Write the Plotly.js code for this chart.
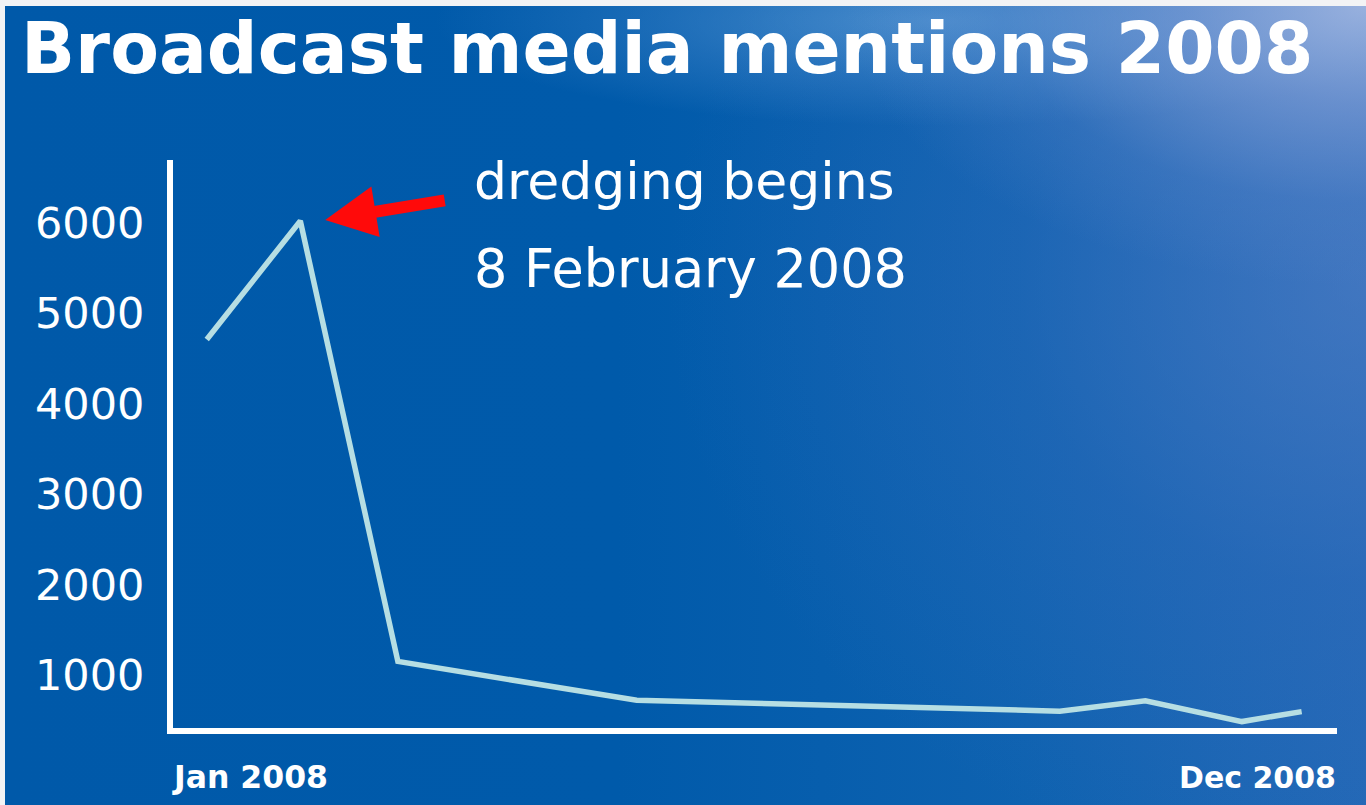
<!DOCTYPE html>
<html>
<head>
<meta charset="utf-8">
<script src="https://cdn.plot.ly/plotly-3.0.1.min.js"></script>
<style>
  html, body { margin: 0; padding: 0; width: 1366px; height: 805px; overflow: hidden; background: #f2f3f5; }
  #bg {
    position: absolute; left: 5px; top: 6px; right: 0; bottom: 0;
    background:
      radial-gradient(ellipse 520px 280px at 100% 0%, rgba(170,188,228,0.85) 0%, rgba(140,165,218,0.6) 35%, rgba(100,140,205,0.25) 70%, rgba(0,0,0,0) 100%),
      radial-gradient(ellipse 500px 105px at 930px 15px, rgba(120,175,228,0.55) 0%, rgba(90,150,215,0.3) 55%, rgba(0,0,0,0) 100%),
      radial-gradient(ellipse 700px 600px at 100% 35%, rgba(90,130,200,0.55) 0%, rgba(60,110,190,0.3) 50%, rgba(0,0,0,0) 100%),
      linear-gradient(to right, #0059a9 0%, #005aaa 45%, #0e62b0 75%, #2268b6 100%);
  }
  #chart { position: absolute; left: 0; top: 0; width: 1366px; height: 805px; }
</style>
</head>
<body>
<div id="bg"></div>
<div id="chart"></div>
<script>
// Data (x = month position, 1 = Jan, 12 = Dec)
const months = [1, 1.94, 2.92, 5.32, 9.57, 10.43, 11.40, 12];
const mentions = [4710, 6020, 1150, 720, 600, 715, 485, 595];
const yTicks = [1000, 2000, 3000, 4000, 5000, 6000];
const startLabel = 'Jan 2008';
const endLabel = 'Dec 2008';
const chartTitle = 'Broadcast media mentions 2008';
const noteLine1 = 'dredging begins';
const noteLine2 = '8 February 2008';

const trace = {
  x: months,
  y: mentions,
  type: 'scatter',
  mode: 'lines',
  line: { color: '#b6dee3', width: 5.5 },
  hoverinfo: 'skip'
};

const layout = {
  width: 1366,
  height: 805,
  margin: { l: 173, r: 29, t: 160, b: 77, pad: 0 },
  paper_bgcolor: 'rgba(0,0,0,0)',
  plot_bgcolor: 'rgba(0,0,0,0)',
  showlegend: false,
  hovermode: false,
  title: {
    text: chartTitle,
    font: { family: 'DejaVu Sans', size: 71, color: '#ffffff', weight: 'bold' },
    xref: 'container', yref: 'container',
    x: 21 / 1366, xanchor: 'left',
    y: 1 - 48 / 805, yanchor: 'middle'
  },
  xaxis: {
    range: [0.661, 12.355],
    showline: true, linecolor: '#ffffff', linewidth: 6,
    showgrid: false, zeroline: false, showticklabels: false, ticks: ''
  },
  yaxis: {
    range: [414, 6694],
    showline: true, linecolor: '#ffffff', linewidth: 6,
    showgrid: false, zeroline: false, ticks: '',
    tickvals: yTicks,
    tickformat: 'd',
    ticklabelstandoff: 14,
    tickfont: { family: 'DejaVu Sans', size: 43, color: '#ffffff' }
  },
  annotations: [
    {
      x: 2.19, y: 6030, xref: 'x', yref: 'y',
      text: '', showarrow: true,
      ax: 121, ay: -20,
      arrowhead: 2, arrowsize: 0.85, arrowwidth: 12, arrowcolor: '#ff0a0a',
      standoff: 0
    },
    {
      xref: 'paper', yref: 'paper',
      x: (472 - 173) / 1164, xanchor: 'left',
      y: (728 - 181) / 568, yanchor: 'middle',
      text: noteLine1, showarrow: false,
      font: { family: 'DejaVu Sans', size: 52, color: '#ffffff' }
    },
    {
      xref: 'paper', yref: 'paper',
      x: (472 - 173) / 1164, xanchor: 'left',
      y: (728 - 268) / 568, yanchor: 'middle',
      text: noteLine2, showarrow: false,
      font: { family: 'DejaVu Sans', size: 52.5, color: '#ffffff' }
    },
    {
      xref: 'paper', yref: 'paper',
      x: -0.003, xanchor: 'left',
      y: (728 - 777) / 568, yanchor: 'middle',
      text: startLabel, showarrow: false,
      font: { family: 'DejaVu Sans', size: 31.5, color: '#ffffff', weight: 'bold' }
    },
    {
      xref: 'paper', yref: 'paper',
      x: 1.001, xanchor: 'right',
      y: (728 - 777) / 568, yanchor: 'middle',
      text: endLabel, showarrow: false,
      font: { family: 'DejaVu Sans', size: 30, color: '#ffffff', weight: 'bold' }
    }
  ]
};

Plotly.newPlot('chart', [trace], layout, { displayModeBar: false, staticPlot: true });
</script>
</body>
</html>
